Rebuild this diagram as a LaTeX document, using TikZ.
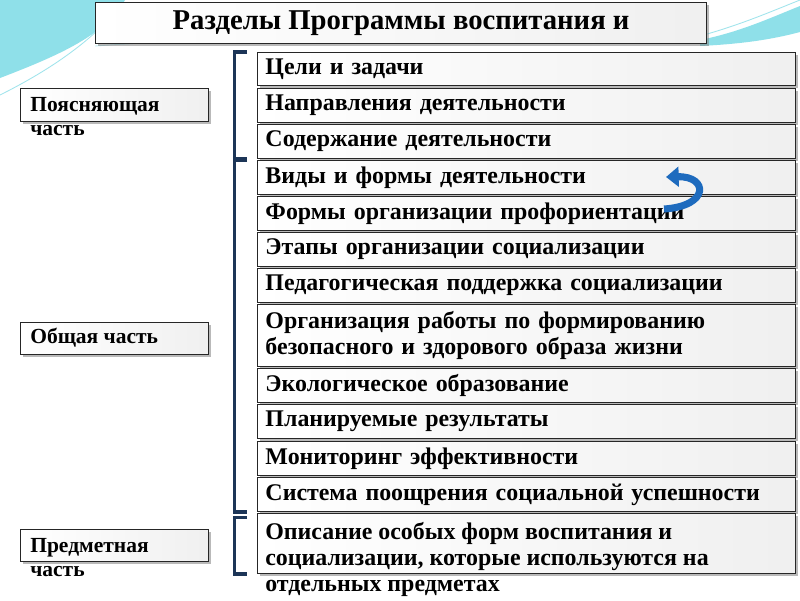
\documentclass[tikz,border=0pt]{standalone}
\usepackage{fontspec}
\setmainfont{Liberation Serif}
\usetikzlibrary{calc, arrows.meta, shadows}

\definecolor{navy}{HTML}{1C3557}
\definecolor{swoosh}{HTML}{5FD3E0}
\definecolor{arrowblue}{HTML}{1E6BBE}

\tikzset{
  bar/.style={draw=black!85, line width=0.7pt, left color=white, middle color=black!40, right color=black!6,
    drop shadow={shadow xshift=2pt, shadow yshift=-2pt, opacity=0.55}},
  brk/.style={draw=navy, line width=2.2pt},
  txt/.style={font=\bfseries\fontsize{17}{18.6}\selectfont},
  side/.style={font=\bfseries\fontsize{15.3}{17.5}\selectfont},
}

\begin{document}
\begin{tikzpicture}[x=0.025cm,y=-0.025cm]
\useasboundingbox (0,0) rectangle (800,600);
\fill[white] (0,0) rectangle (800,600);

% background swooshes
\fill[swoosh!70] (0,0) -- (125,0) .. controls (105,35) and (60,55) .. (0,78) -- cycle;
\draw[swoosh!60, line width=0.6pt] (110,18) .. controls (80,50) and (40,75) .. (0,95);
\draw[swoosh!40, line width=0.6pt] (95,46) .. controls (150,42) and (210,40) .. (260,38);
\fill[swoosh!70] (700,40) .. controls (740,32) and (770,18) .. (800,6) -- (800,32) .. controls (770,40) and (740,44) .. (700,46) -- cycle;
\draw[swoosh!60, line width=0.6pt] (700,36) .. controls (740,25) and (770,12) .. (800,0);

% title
\node[bar, minimum width=15.275cm, minimum height=1.025cm, anchor=north west,
  font=\bfseries\fontsize{20.4}{22}\selectfont] (title) at (95,2) {Разделы Программы воспитания и};

% left parts
\node[bar, minimum width=4.7cm, minimum height=0.825cm, anchor=north west] (expl) at (20,88) {};
\node[side, align=left, anchor=north west, inner sep=0pt] (explt) at (30,97) {Поясняющая\\часть};
\node[bar, minimum width=4.7cm, minimum height=0.8cm, anchor=north west] (common) at (20,322) {};
\node[side, anchor=west, inner sep=0pt] (commont) at (30,338) {Общая часть};
\node[bar, minimum width=4.7cm, minimum height=0.8cm, anchor=north west] (subj) at (20,529) {};
\node[side, align=left, anchor=north west, inner sep=0pt] (subjt) at (30,538) {Предметная\\часть};

% right rows
\foreach \n/\t/\b/\s in {
  r1/52/85/{Цели и задачи},
  r2/88/122/{Направления деятельности},
  r3/124/158/{Содержание деятельности},
  r4/160/194/{Виды и формы деятельности},
  r5/196/230/{Формы организации профориентации},
  r6/232/266/{Этапы организации социализации},
  r7/268/302/{Педагогическая поддержка социализации},
  r8/304/366/{Организация работы по формированию\\безопасного и здорового образа жизни},
  r9/368/402/{Экологическое образование},
  r10/404/438/{Планируемые результаты},
  r11/441/475/{Мониторинг эффективности},
  r12/477/511/{Система поощрения социальной успешности}}
  \node[bar, txt, anchor=north west, minimum width=13.45cm, minimum height={(\b-\t)*0.025cm},
    text width=13.05cm, inner xsep=0.2cm, inner ysep=0pt, align=left] (\n) at (257,\t) {\s};

\node[bar, anchor=north west, minimum width=13.45cm, minimum height=1.5cm] (r13) at (257,513) {};
\node[txt, align=left, anchor=north west, inner sep=0pt] (r13t) at (265,522)
  {Описание особых форм воспитания и\\социализации, которые используются на\\отдельных предметах};

% brackets
\draw[brk] ([xshift=-7pt]r1.north west) -| ([xshift=-16pt]r3.south west) -- ([xshift=-7pt]r3.south west);
\draw[brk] ([xshift=-7pt]r4.north west) -| ([xshift=-16pt]r12.south west) -- ([xshift=-7pt]r12.south west);
\draw[brk] ([xshift=-7pt,yshift=-3pt]r13.north west) -| ([xshift=-16pt]r13.south west) -- ([xshift=-7pt]r13.south west);

% arrow
\draw[arrowblue, line width=5pt, -{Triangle[width=14pt,length=9pt]}] (664,209) .. controls (710,206) and (708,176) .. (666,177);
\end{tikzpicture}
\end{document}
